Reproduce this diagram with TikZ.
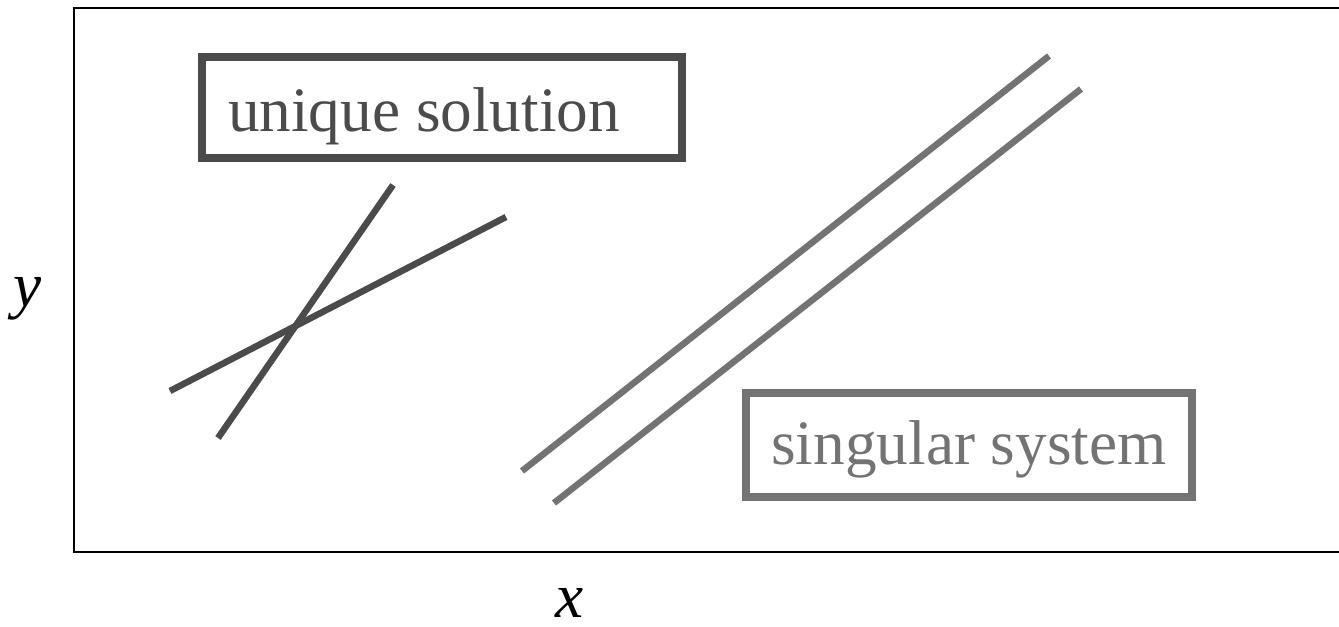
\documentclass[tikz,border=0pt]{standalone}
\usepackage{fontspec}
\setmainfont{Liberation Serif}
\usepackage{tikz}
\usetikzlibrary{positioning}
\definecolor{dk70}{HTML}{4B4B4B}
\definecolor{gy55}{HTML}{737373}
\tikzset{
  framebox/.style={draw=black, line width=0.02cm},
  casebox/.style={
    rectangle, draw=#1, text=#1, line width=0.08cm,
    font=\fontsize{18}{21}\selectfont, inner sep=0pt
  },
  casebox/.default=dk70,
  caseline/.style={draw=#1, line width=0.065cm},
  caseline/.default=dk70,
  axislabel/.style={font=\fontsize{18}{21}\selectfont\itshape, inner sep=0pt}
}
\begin{document}
\begin{tikzpicture}
\useasboundingbox (0,0) rectangle (13.39,6.27);

% Frame and axis labels
\draw[framebox] (0.74,0.75) rectangle (13.60,6.19);
\node[axislabel] (ylab) at (0.28,3.28) {y};
\node[axislabel] (xlab) at (5.70,0.24) {x};

% Unique solution
\node[casebox, minimum width=4.80cm, minimum height=1.01cm,
      text width=4.28cm, align=flush left, inner xsep=0.26cm,
      text height=0.60cm, text depth=0.11cm] (uniq) at (4.42,5.195) {unique solution};
\draw[caseline] (1.70,2.36) -- (5.06,4.10);
\draw[caseline] (2.18,1.89) -- (3.93,4.42);

% Singular system
\node[casebox=gy55, minimum width=4.46cm, minimum height=1.04cm,
      text height=0.55cm, text depth=0.15cm] (sing) at (9.69,1.82) {singular system};
\draw[caseline=gy55] (5.22,1.56) -- (10.49,5.71);
\draw[caseline=gy55] (5.54,1.24) -- (10.81,5.38);

\end{tikzpicture}
\end{document}
